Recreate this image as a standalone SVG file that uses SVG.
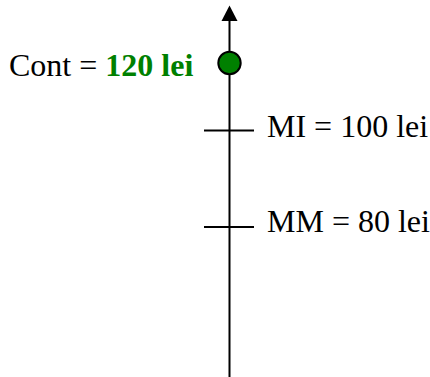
<svg xmlns="http://www.w3.org/2000/svg" width="430" height="377" viewBox="0 0 430 377">
<style>
text{font-family:"Liberation Serif","Times New Roman",serif;font-size:32px;fill:#000}
.ax{stroke:#000;stroke-width:2;fill:none}
</style>
<rect width="430" height="377" fill="#fff"/>
<g id="connectors">
<line class="ax" x1="229.5" y1="377" x2="229.5" y2="20"/>
<path d="M229.5,5.5 L237.5,21 L221.5,21 Z" fill="#000"/>
<line class="ax" x1="204" y1="130.5" x2="254" y2="130.5"/>
<line class="ax" x1="204" y1="227" x2="254" y2="227"/>
</g>
<g id="cont">
<circle cx="229.5" cy="63" r="11.2" fill="#008000" stroke="#000" stroke-width="2"/>
<text x="9" y="75.5" font-size="31.5">Cont = <tspan fill="#008000" font-weight="bold">120 lei</tspan></text>
</g>
<g id="mi">
<text x="267" y="137.3">MI = 100 lei</text>
</g>
<g id="mm">
<text x="267" y="231.7">MM = 80 lei</text>
</g>
</svg>
